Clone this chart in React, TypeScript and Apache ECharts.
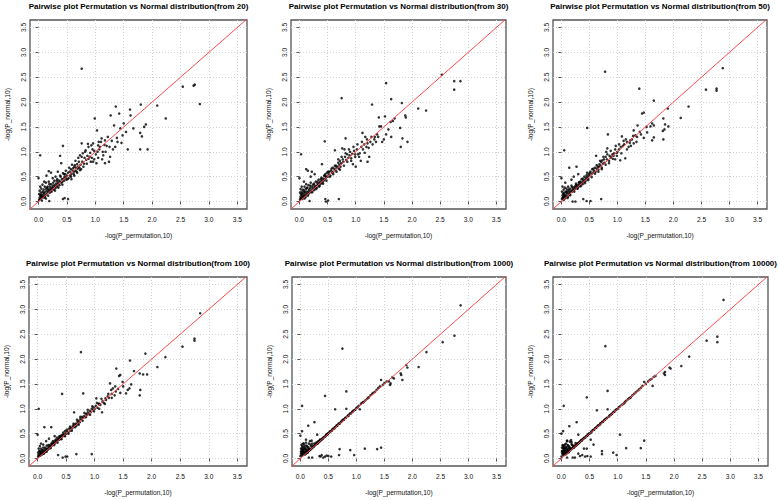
import React, { useEffect, useRef } from "react";
import * as echarts from "echarts";

const panelTitles = [
  "Pairwise plot Permutation vs Normal distribution(from 20)",
  "Pairwise plot Permutation vs Normal distribution(from 30)",
  "Pairwise plot Permutation vs Normal distribution(from 50)",
  "Pairwise plot Permutation vs Normal distribution(from 100)",
  "Pairwise plot Permutation vs Normal distribution(from 1000)",
  "Pairwise plot Permutation vs Normal distribution(from 10000)",
];
const xAxisTitle = "-log(P_permutation,10)";
const yAxisTitle = "-log(P_normal,10)";
const tickValues = [0, 0.5, 1, 1.5, 2, 2.5, 3, 3.5];
const AXIS_MIN = -0.15;
const X_MAX = 3.67;
const Y_MAX = 3.65;
const diagonal = [[-0.3, -0.3], [3.8, 3.8]];

const from20 = [
  [0.01,0.03],[0.01,0.15],[0.02,0.08],[0.02,0.22],[0.03,0.12],[0.03,0.3],[0.04,0.05],[0.04,0.18],[0.05,0.1],[0.05,0.26],[0.06,0.02],[0.06,0.14],[0.07,0.2],[0.07,0.34],[0.08,0.08],[0.08,0.12],[0.09,0.24],[0.1,0.1],[0.1,0.16],[0.11,0.3],[0.12,0.12],[0.12,0.2],[0.13,0.06],[0.13,0.38],[0.14,0.15],[0.15,0.22],[0.15,0.28],[0.16,0.18],[0.17,0.12],[0.17,0.25],[0.18,0.2],[0.18,0.4],[0.19,0.23],[0.2,0.18],[0.2,0.3],[0.21,0.26],[0.22,0.22],[0.22,0.35],[0.23,0.28],[0.24,0.25],[0.25,0.32],[0.25,0.47],[0.26,0.28],[0.27,0.24],[0.28,0.33],[0.28,0.42],[0.29,0.3],[0.3,0.27],[0.31,0.36],[0.32,0.32],[0.33,0.3],[0.33,0.45],[0.34,0.38],[0.35,0.35],[0.36,0.42],[0.37,0.33],[0.38,0.4],[0.39,0.5],[0.4,0.38],[0.41,0.45],[0.42,0.4],[0.43,0.57],[0.44,0.46],[0.45,0.42],[0.46,0.5],[0.47,0.55],[0.48,0.48],[0.49,0.44],[0.5,0.52],
  [0.02,0.05],[0.04,0.13],[0.06,0.09],[0.09,0.18],[0.11,0.08],[0.13,0.26],[0.16,0.3],[0.19,0.35],[0.23,0.2],[0.26,0.38],[0.29,0.22],[0.32,0.42],[0.35,0.28],[0.38,0.52],[0.42,0.34],[0.45,0.55],[0.48,0.62],[0.51,0.45],[0.54,0.68],[0.57,0.5],[0.59,0.74],[0.62,0.6],[0.65,0.82],[0.68,0.58],[0.7,0.88],[0.73,0.63],[0.76,0.9],[0.79,0.7],[0.82,1.0],[0.85,0.76],[0.88,1.1],[0.92,0.8],[0.95,1.05],[0.98,0.85],[1.04,1.0],[1.06,1.2],[1.12,0.85],[1.18,1.0],[1.25,1.1],[1.31,1.05],[1.39,1.2],[1.05,0.88],[0.87,1.16],[0.58,0.45],[0.63,0.52],
  [0.0,0.47],[0.03,0.93],[0.18,0.61],[0.22,0.58],[0.34,0.6],[0.38,0.92],[0.4,0.77],[0.43,1.12],[0.19,0.01],[0.43,0.05],[0.46,0.07],[0.52,0.05],[0.1,0.4],[0.14,0.52],[0.3,0.5],
  [0.52,0.58],[0.53,0.47],[0.55,0.6],[0.56,0.52],[0.57,0.65],[0.58,0.56],[0.6,0.62],[0.61,0.67],[0.62,0.55],[0.63,0.7],[0.64,0.73],[0.65,0.62],[0.66,0.68],[0.67,0.6],[0.68,0.75],[0.69,0.66],[0.7,0.7],[0.71,0.8],[0.72,0.68],[0.73,0.93],[0.74,0.74],[0.75,0.65],[0.76,1.17],[0.76,2.67],[0.77,0.8],[0.78,0.97],[0.8,0.76],[0.81,0.88],[0.83,1.03],[0.84,0.84],[0.86,0.92],[0.88,0.86],[0.9,0.9],[0.91,0.98],[0.93,1.13],[0.94,0.88],[0.96,1.17],[0.96,0.8],[0.98,1.02],[0.99,1.67],
  [1.01,0.95],[1.02,0.77],[1.03,1.43],[1.05,1.13],[1.07,1.05],[1.08,1.1],[1.1,1.2],[1.11,1.27],[1.13,1.0],[1.14,0.93],[1.16,1.14],[1.17,1.23],[1.17,0.77],[1.2,1.12],[1.22,1.3],[1.24,0.8],[1.26,0.9],[1.27,1.73],[1.29,1.22],[1.33,1.53],[1.35,1.1],[1.36,1.91],[1.38,1.28],[1.42,1.77],[1.44,1.47],[1.46,1.18],[1.48,1.33],[1.5,1.57],[1.54,1.4],[1.57,1.05],[1.61,1.85],[1.62,1.73],[1.67,1.47],[1.79,1.38],[1.79,1.05],[1.8,1.95],[1.82,1.31],[1.86,1.5],[1.89,1.55],[1.92,1.05],[2.09,1.93],[2.24,1.67],[2.54,2.31],[2.73,2.33],[2.75,2.35],[2.84,1.96],
];

const from30 = [
  [0.01,0.04],[0.01,0.18],[0.02,0.1],[0.02,0.25],[0.03,0.07],[0.03,0.14],[0.04,0.2],[0.04,0.3],[0.05,0.05],[0.05,0.12],[0.06,0.17],[0.06,0.24],[0.07,0.09],[0.08,0.14],[0.08,0.22],[0.09,0.06],[0.09,0.3],[0.1,0.12],[0.1,0.18],[0.11,0.25],[0.12,0.14],[0.12,0.35],[0.13,0.2],[0.14,0.16],[0.14,0.28],[0.15,0.12],[0.16,0.2],[0.16,0.33],[0.17,0.24],[0.18,0.18],[0.19,0.27],[0.2,0.22],[0.2,0.38],[0.21,0.19],[0.22,0.3],[0.23,0.25],[0.24,0.34],[0.25,0.28],[0.26,0.23],[0.27,0.32],[0.28,0.28],[0.29,0.4],[0.3,0.31],[0.31,0.27],[0.32,0.36],[0.33,0.33],[0.34,0.44],[0.35,0.37],[0.36,0.32],[0.37,0.4],[0.38,0.36],[0.39,0.48],[0.4,0.42],[0.41,0.38],[0.42,0.46],[0.43,0.42],[0.44,0.52],[0.45,0.45],[0.46,0.55],[0.47,0.48],[0.48,0.5],[0.49,0.58],[0.5,0.5],
  [0.02,0.06],[0.04,0.16],[0.06,0.1],[0.09,0.2],[0.11,0.09],[0.13,0.27],[0.16,0.15],[0.19,0.32],[0.23,0.19],[0.26,0.36],[0.29,0.25],[0.32,0.4],[0.35,0.3],[0.38,0.45],[0.42,0.36],[0.45,0.52],[0.48,0.42],[0.51,0.6],[0.54,0.5],[0.57,0.66],[0.6,0.55],[0.63,0.72],[0.66,0.6],[0.69,0.85],[0.72,0.64],[0.75,0.9],[0.79,0.72],[0.82,0.97],[0.85,0.8],[0.88,1.05],[0.92,0.82],[0.96,1.1],[0.99,0.95],[1.03,1.15],[1.06,0.9],[1.11,1.2],[1.16,0.98],[1.23,1.08],[1.28,1.3],[1.36,1.2],[1.4,1.3],
  [0.0,0.47],[0.03,0.95],[0.12,0.65],[0.15,0.62],[0.22,0.6],[0.4,0.75],[0.45,1.21],[0.18,0.01],[0.46,0.05],[0.47,0.0],[0.51,0.02],[0.7,0.05],[0.08,0.4],[0.2,0.5],[0.27,0.55],
  [0.52,0.55],[0.53,0.6],[0.55,0.52],[0.56,0.62],[0.58,0.58],[0.59,0.68],[0.6,0.6],[0.62,0.66],[0.63,1.03],[0.64,0.63],[0.65,0.72],[0.66,0.68],[0.68,0.7],[0.69,0.78],[0.7,0.66],[0.71,0.74],[0.72,0.82],[0.73,0.7],[0.74,0.77],[0.75,2.08],[0.76,1.07],[0.77,0.85],[0.78,0.8],[0.8,1.05],[0.81,0.9],[0.82,1.27],[0.83,0.84],[0.85,0.95],[0.87,0.88],[0.89,0.93],[0.9,1.0],[0.92,0.87],[0.94,0.96],[0.95,0.75],[0.97,1.02],[0.99,0.9],
  [1.0,0.7],[1.02,1.05],[1.04,0.95],[1.07,0.97],[1.09,0.82],[1.1,1.1],[1.12,1.38],[1.13,1.05],[1.15,1.15],[1.17,1.3],[1.19,1.1],[1.2,1.25],[1.21,1.17],[1.21,0.8],[1.24,0.9],[1.26,1.2],[1.29,1.95],[1.3,1.15],[1.33,1.25],[1.34,1.3],[1.38,1.35],[1.41,1.69],[1.42,1.51],[1.45,1.51],[1.47,1.2],[1.5,1.25],[1.52,1.71],[1.54,1.35],[1.54,2.38],[1.58,1.45],[1.62,1.6],[1.63,1.3],[1.63,2.06],[1.66,1.62],[1.69,1.67],[1.79,1.48],[1.8,1.1],[1.82,1.98],[1.83,1.27],[1.88,1.73],[1.89,1.69],[1.92,1.2],[2.11,1.87],[2.25,1.83],[2.53,2.55],[2.75,2.42],[2.75,2.25],[2.86,2.42],
];

const from50 = [
  [0.01,0.05],[0.01,0.2],[0.02,0.12],[0.02,0.3],[0.03,0.08],[0.03,0.16],[0.04,0.24],[0.04,0.03],[0.05,0.1],[0.05,0.18],[0.06,0.28],[0.06,0.06],[0.07,0.14],[0.08,0.2],[0.08,0.09],[0.09,0.26],[0.1,0.12],[0.1,0.17],[0.11,0.22],[0.12,0.1],[0.12,0.3],[0.13,0.16],[0.14,0.2],[0.15,0.14],[0.15,0.26],[0.16,0.18],[0.17,0.22],[0.18,0.32],[0.19,0.2],[0.2,0.25],[0.21,0.22],[0.22,0.28],[0.23,0.24],[0.24,0.3],[0.25,0.26],[0.26,0.36],[0.27,0.3],[0.28,0.27],[0.29,0.33],[0.3,0.3],[0.31,0.38],[0.32,0.34],[0.33,0.31],[0.34,0.4],[0.35,0.36],[0.36,0.45],[0.37,0.38],[0.38,0.35],[0.39,0.42],[0.4,0.4],[0.41,0.5],[0.42,0.44],[0.43,0.41],[0.44,0.48],[0.45,0.45],[0.46,0.58],[0.47,0.5],[0.48,0.47],[0.49,0.55],[0.5,0.52],
  [0.02,0.07],[0.04,0.14],[0.06,0.11],[0.09,0.19],[0.11,0.07],[0.13,0.24],[0.16,0.13],[0.19,0.29],[0.23,0.2],[0.26,0.33],[0.29,0.26],[0.32,0.39],[0.35,0.31],[0.38,0.46],[0.42,0.37],[0.45,0.53],[0.48,0.43],[0.51,0.58],[0.54,0.49],[0.57,0.66],[0.6,0.56],[0.63,0.73],[0.66,0.6],[0.69,0.82],[0.72,0.65],[0.75,0.9],[0.79,0.74],[0.82,0.95],[0.85,0.82],[0.88,1.02],[0.92,0.86],[0.96,1.05],[0.99,0.92],[1.03,1.15],[1.07,0.97],[1.11,1.22],[1.17,1.05],[1.24,1.12],[1.28,1.32],[1.34,1.2],[1.42,1.35],
  [0.0,0.47],[0.05,1.03],[0.14,0.68],[0.27,0.7],[0.22,0.5],[0.46,1.48],[0.2,0.0],[0.25,0.0],[0.39,0.05],[0.45,0.01],[0.52,0.01],[0.71,0.05],[0.07,0.38],[0.18,0.44],[0.3,0.55],
  [0.52,0.6],[0.54,0.55],[0.55,0.65],[0.57,0.58],[0.58,0.62],[0.6,0.68],[0.61,0.6],[0.62,0.92],[0.63,0.66],[0.65,0.7],[0.66,0.64],[0.67,0.7],[0.68,0.75],[0.7,0.72],[0.71,0.8],[0.72,0.68],[0.73,0.83],[0.74,0.76],[0.76,0.85],[0.77,0.78],[0.78,2.61],[0.79,0.9],[0.8,1.0],[0.81,0.85],[0.82,1.07],[0.83,1.35],[0.85,0.77],[0.86,0.92],[0.88,0.88],[0.89,0.9],[0.91,0.95],[0.93,0.92],[0.94,0.97],[0.96,0.85],[0.97,1.12],[0.99,0.98],
  [1.0,1.0],[1.03,1.05],[1.05,0.83],[1.06,1.1],[1.08,1.31],[1.1,1.12],[1.12,1.15],[1.14,0.87],[1.15,1.25],[1.17,1.2],[1.2,1.1],[1.22,1.18],[1.23,1.23],[1.26,1.25],[1.29,1.17],[1.29,1.43],[1.32,1.33],[1.35,1.3],[1.36,1.53],[1.39,2.27],[1.4,1.4],[1.44,1.77],[1.47,1.79],[1.47,1.28],[1.52,1.5],[1.53,1.39],[1.59,1.51],[1.62,1.57],[1.62,1.23],[1.65,1.53],[1.65,1.29],[1.65,2.03],[1.81,1.42],[1.82,1.25],[1.82,1.67],[1.84,1.45],[1.85,1.55],[1.9,1.87],[1.91,1.51],[2.13,1.68],[2.27,1.91],[2.58,2.25],[2.77,2.27],[2.77,2.23],[2.88,2.68],
];

const from100 = [
  [0.01,0.04],[0.01,0.12],[0.02,0.08],[0.02,0.2],[0.03,0.05],[0.03,0.15],[0.04,0.1],[0.04,0.25],[0.05,0.06],[0.05,0.14],[0.06,0.2],[0.06,0.09],[0.07,0.12],[0.08,0.17],[0.08,0.08],[0.09,0.13],[0.1,0.1],[0.1,0.22],[0.11,0.15],[0.12,0.12],[0.13,0.18],[0.14,0.14],[0.15,0.2],[0.15,0.16],[0.16,0.26],[0.17,0.19],[0.18,0.18],[0.19,0.23],[0.2,0.2],[0.21,0.27],[0.22,0.23],[0.23,0.25],[0.24,0.3],[0.25,0.26],[0.26,0.28],[0.27,0.35],[0.28,0.3],[0.29,0.32],[0.3,0.3],[0.31,0.36],[0.32,0.33],[0.33,0.35],[0.34,0.42],[0.35,0.36],[0.36,0.38],[0.37,0.4],[0.38,0.38],[0.39,0.45],[0.4,0.42],[0.41,0.4],[0.42,0.47],[0.43,0.44],[0.44,0.46],[0.45,0.52],[0.46,0.48],[0.47,0.46],[0.48,0.55],[0.49,0.5],[0.5,0.5],
  [0.02,0.06],[0.04,0.15],[0.06,0.12],[0.09,0.17],[0.11,0.1],[0.13,0.22],[0.16,0.14],[0.19,0.27],[0.23,0.21],[0.26,0.32],[0.29,0.27],[0.32,0.38],[0.35,0.32],[0.38,0.44],[0.42,0.39],[0.45,0.48],[0.48,0.45],[0.51,0.58],[0.54,0.5],[0.57,0.64],[0.6,0.56],[0.63,0.7],[0.66,0.63],[0.69,0.78],[0.72,0.68],[0.75,0.84],[0.79,0.76],[0.82,0.92],[0.85,0.84],[0.88,0.98],[0.92,0.88],[0.96,1.05],[0.99,0.95],[1.04,1.12],[1.08,1.0],[1.12,1.2],[1.18,1.1],[1.24,1.3],[1.3,1.22],[1.36,1.45],
  [0.0,0.48],[0.02,1.0],[0.12,0.63],[0.24,0.63],[0.43,1.3],[0.36,0.07],[0.44,0.02],[0.49,0.04],[0.52,0.04],[0.68,0.09],[0.95,0.09],[0.06,0.3],[0.15,0.35],[0.2,0.4],[0.1,0.28],[0.3,0.45],
  [0.52,0.55],[0.54,0.52],[0.55,0.6],[0.57,0.56],[0.58,0.62],[0.6,0.6],[0.62,0.66],[0.63,0.63],[0.64,0.93],[0.65,0.68],[0.67,0.7],[0.68,0.66],[0.7,0.74],[0.71,0.7],[0.72,0.76],[0.74,0.73],[0.75,0.8],[0.76,2.14],[0.77,0.78],[0.78,0.84],[0.8,1.31],[0.8,0.82],[0.82,0.86],[0.84,0.83],[0.85,0.9],[0.87,0.88],[0.88,0.93],[0.9,0.9],[0.92,0.96],[0.93,0.93],[0.95,1.0],[0.97,0.97],[0.98,1.03],
  [1.0,1.0],[1.02,1.06],[1.03,1.21],[1.05,1.02],[1.07,1.1],[1.08,1.1],[1.1,1.08],[1.13,0.93],[1.14,1.15],[1.16,1.12],[1.19,1.21],[1.2,1.18],[1.23,1.25],[1.25,1.22],[1.27,1.51],[1.29,1.38],[1.3,1.3],[1.32,1.41],[1.35,1.27],[1.37,1.35],[1.38,1.81],[1.41,1.4],[1.43,1.66],[1.45,1.68],[1.45,1.32],[1.49,1.54],[1.5,1.45],[1.55,1.31],[1.58,1.38],[1.61,1.41],[1.62,1.97],[1.64,1.49],[1.69,1.76],[1.79,1.71],[1.79,1.27],[1.8,1.38],[1.85,1.69],[1.89,2.11],[1.92,1.69],[2.1,1.84],[2.24,2.04],[2.54,2.25],[2.75,2.41],[2.75,2.37],[2.85,2.92],
];

const from1000 = [
  [0.0,0.05],[0.01,0.1],[0.01,0.2],[0.02,0.15],[0.02,0.28],[0.03,0.06],[0.03,0.12],[0.04,0.22],[0.04,0.18],[0.05,0.08],[0.05,0.3],[0.06,0.14],[0.06,0.24],[0.07,0.1],[0.07,0.19],[0.08,0.08],[0.08,0.26],[0.09,0.13],[0.09,0.2],[0.1,0.1],[0.1,0.32],[0.11,0.16],[0.12,0.12],[0.12,0.24],[0.13,0.2],[0.14,0.14],[0.15,0.3],[0.15,0.18],[0.16,0.16],[0.17,0.35],[0.18,0.18],[0.19,0.25],[0.2,0.2],[0.21,0.3],[0.22,0.22],[0.23,0.24],[0.24,0.24],[0.25,0.26],[0.26,0.27],[0.27,0.28],[0.28,0.29],[0.29,0.3],[0.3,0.3],[0.31,0.34],[0.32,0.32],[0.33,0.35],[0.34,0.34],[0.35,0.37],[0.36,0.36],[0.37,0.38],[0.38,0.38],[0.39,0.4],[0.4,0.4],[0.42,0.43],[0.44,0.44],[0.46,0.47],[0.48,0.48],[0.5,0.51],
  [0.01,0.14],[0.02,0.08],[0.03,0.2],[0.04,0.12],[0.05,0.17],[0.06,0.3],[0.07,0.14],[0.08,0.21],[0.09,0.11],[0.1,0.17],[0.11,0.26],[0.12,0.15],[0.13,0.12],[0.14,0.23],[0.16,0.2],[0.17,0.18],[0.18,0.28],[0.05,0.13],[0.03,0.25],[0.22,0.25],[0.25,0.3],[0.28,0.32],[0.31,0.31],[0.35,0.38],[0.41,0.42],[0.45,0.46],[0.47,0.49],[0.49,0.5],[0.53,0.54],[0.57,0.58],[0.61,0.62],[0.65,0.67],[0.69,0.7],[0.73,0.74],[0.77,0.79],[0.81,0.82],[0.85,0.87],[0.89,0.9],[0.93,0.95],[0.97,0.98],[1.12,1.13],[1.21,1.22],
  [0.0,0.46],[0.03,0.55],[0.03,1.06],[0.14,0.66],[0.25,0.73],[0.3,0.48],[0.44,1.26],[0.1,0.38],[0.2,0.36],
  [0.15,0.02],[0.21,0.02],[0.34,0.05],[0.38,0.07],[0.41,0.02],[0.44,0.04],[0.5,0.05],[0.55,0.04],[0.69,0.07],[0.7,0.19],[0.89,0.17],[0.96,0.07],[1.15,0.2],[1.37,0.19],[1.44,0.22],[0.47,0.06],[0.36,0.04],
  [0.52,0.53],[0.54,0.55],[0.56,0.56],[0.58,0.6],[0.6,0.6],[0.62,0.63],[0.62,0.99],[0.64,0.65],[0.66,0.66],[0.68,0.7],[0.7,0.7],[0.72,0.73],[0.74,0.76],[0.75,2.21],[0.76,0.77],[0.78,0.78],[0.8,0.82],[0.82,1.0],[0.82,1.35],[0.84,0.85],[0.86,0.86],[0.88,0.9],[0.9,0.91],[0.92,0.93],[0.94,0.95],[0.96,0.97],[0.98,0.98],
  [1.0,1.02],[1.02,1.03],[1.04,1.06],[1.06,0.99],[1.08,1.1],[1.1,1.12],[1.13,1.14],[1.16,1.17],[1.19,1.2],[1.22,1.23],[1.25,1.27],[1.28,1.3],[1.3,1.32],[1.33,1.34],[1.36,1.38],[1.39,1.42],[1.42,1.45],[1.44,1.58],[1.47,1.48],[1.5,1.52],[1.54,1.55],[1.58,1.55],[1.6,1.48],[1.61,1.51],[1.64,1.63],[1.67,1.61],[1.79,1.71],[1.8,1.68],[1.82,1.58],[1.89,1.88],[1.91,1.83],[2.11,1.84],[2.25,2.14],[2.54,2.34],[2.75,2.47],[2.86,3.08],
];

const from10000 = [
  [0.0,0.04],[0.01,0.12],[0.01,0.22],[0.02,0.16],[0.02,0.27],[0.03,0.07],[0.03,0.14],[0.04,0.2],[0.04,0.1],[0.05,0.25],[0.05,0.16],[0.06,0.08],[0.06,0.21],[0.07,0.12],[0.07,0.18],[0.08,0.3],[0.08,0.09],[0.09,0.15],[0.09,0.23],[0.1,0.11],[0.1,0.35],[0.11,0.19],[0.12,0.13],[0.12,0.26],[0.13,0.22],[0.14,0.15],[0.15,0.34],[0.15,0.2],[0.16,0.17],[0.17,0.37],[0.18,0.19],[0.19,0.27],[0.2,0.21],[0.21,0.24],[0.22,0.22],[0.23,0.23],[0.24,0.25],[0.25,0.26],[0.26,0.26],[0.27,0.28],[0.28,0.28],[0.29,0.3],[0.3,0.31],[0.31,0.32],[0.32,0.32],[0.33,0.34],[0.34,0.35],[0.35,0.36],[0.36,0.36],[0.37,0.38],[0.38,0.39],[0.39,0.4],[0.4,0.41],[0.42,0.42],[0.44,0.45],[0.46,0.46],[0.48,0.49],[0.5,0.5],
  [0.01,0.15],[0.02,0.09],[0.03,0.22],[0.04,0.13],[0.05,0.19],[0.06,0.28],[0.07,0.15],[0.08,0.22],[0.09,0.12],[0.1,0.18],[0.11,0.27],[0.12,0.16],[0.13,0.13],[0.14,0.24],[0.16,0.21],[0.17,0.2],[0.18,0.29],[0.05,0.12],[0.03,0.26],[0.22,0.26],[0.25,0.31],[0.28,0.3],[0.31,0.31],[0.35,0.37],[0.41,0.42],[0.45,0.45],[0.47,0.48],[0.49,0.5],[0.53,0.53],[0.57,0.58],[0.61,0.62],[0.65,0.66],[0.69,0.7],[0.73,0.74],[0.77,0.78],[0.81,0.82],[0.85,0.86],[0.89,0.9],[0.93,0.94],[0.97,0.98],[1.12,1.12],[1.22,1.22],
  [0.0,0.5],[0.03,0.55],[0.04,1.06],[0.14,0.65],[0.27,0.73],[0.3,0.48],[0.45,1.23],[0.1,0.36],[0.18,0.33],
  [0.1,0.02],[0.2,0.02],[0.24,0.02],[0.33,0.05],[0.37,0.07],[0.42,0.04],[0.46,0.05],[0.52,0.04],[0.52,0.38],[0.57,0.28],[0.45,0.2],[0.72,0.15],[0.72,0.09],[0.92,0.12],[0.98,0.07],[1.04,0.48],[1.15,0.21],[1.41,0.21],[1.47,0.36],[0.3,0.1],[0.4,0.2],
  [0.52,0.52],[0.54,0.55],[0.56,0.57],[0.58,0.58],[0.6,0.61],[0.62,0.62],[0.63,0.97],[0.64,0.65],[0.66,0.67],[0.68,0.68],[0.7,0.71],[0.72,0.73],[0.74,0.74],[0.76,0.77],[0.78,2.26],[0.78,0.79],[0.8,0.81],[0.82,0.99],[0.82,1.36],[0.84,0.84],[0.86,0.87],[0.88,0.88],[0.9,0.9],[0.92,0.93],[0.94,0.94],[0.96,0.97],[0.98,0.99],
  [1.0,1.0],[1.02,1.03],[1.04,1.05],[1.07,1.08],[1.1,1.1],[1.13,1.14],[1.15,1.16],[1.18,1.19],[1.2,1.21],[1.23,1.23],[1.26,1.27],[1.29,1.3],[1.32,1.33],[1.35,1.36],[1.38,1.39],[1.41,1.42],[1.44,1.46],[1.47,1.54],[1.5,1.5],[1.54,1.55],[1.57,1.58],[1.6,1.6],[1.62,1.46],[1.64,1.64],[1.67,1.66],[1.82,1.71],[1.84,1.74],[1.84,1.68],[1.92,1.83],[1.94,1.81],[2.13,1.86],[2.27,2.05],[2.58,2.37],[2.77,2.45],[2.77,2.34],[2.88,3.19],
];

const panelData = [from20, from30, from50, from100, from1000, from10000];

const gridBoxes = [
  { left: 30, top: 20, width: 217, height: 189 },
  { left: 291, top: 20, width: 215, height: 189 },
  { left: 553, top: 20, width: 214, height: 189 },
  { left: 29, top: 277, width: 218, height: 189 },
  { left: 292, top: 277, width: 214, height: 189 },
  { left: 553, top: 277, width: 215, height: 189 },
];

const FONT = '"Liberation Sans", Arial, Helvetica, sans-serif';

export default function App() {
  const ref = useRef<HTMLDivElement>(null);
  useEffect(() => {
    document.body.style.margin = "0";
    if (!ref.current) return;
    const chart = echarts.init(ref.current, undefined, { renderer: "svg" });
    const grids: any[] = [];
    const xAxes: any[] = [];
    const yAxes: any[] = [];
    const series: any[] = [];
    const graphics: any[] = [];
    gridBoxes.forEach((b, i) => {
      grids.push({
        left: b.left, top: b.top, width: b.width, height: b.height,
        show: true, borderColor: "#555", borderWidth: 1.3, backgroundColor: "transparent",
      });
      const common = {
        gridIndex: i,
        type: "value",
        min: AXIS_MIN,
        axisLine: { show: false },
        axisTick: { show: true, customValues: tickValues, length: 3, lineStyle: { color: "#555", width: 1 } },
        splitLine: { show: true, lineStyle: { color: "#d3d3d3", width: 1, type: [1, 2] } },
        nameLocation: "middle",
        nameTextStyle: { fontFamily: FONT, fontSize: 6.6, color: "#111" },
      };
      xAxes.push({
        ...common,
        max: X_MAX,
        name: xAxisTitle,
        nameGap: 23,
        axisLabel: { customValues: tickValues, formatter: (v: number) => v.toFixed(1), fontFamily: FONT, fontSize: 6.6, color: "#111", margin: 7 },
      });
      yAxes.push({
        ...common,
        max: Y_MAX,
        name: yAxisTitle,
        nameGap: 19,
        axisLabel: { customValues: tickValues, formatter: (v: number) => v.toFixed(1), fontFamily: FONT, fontSize: 6.6, color: "#111", margin: 3, rotate: 90 },
      });
      series.push({
        type: "scatter",
        xAxisIndex: i, yAxisIndex: i,
        data: panelData[i],
        symbol: "circle",
        symbolSize: 2.6,
        itemStyle: { color: "#000" },
        silent: true,
        z: 2,
      });
      series.push({
        type: "line",
        xAxisIndex: i, yAxisIndex: i,
        data: diagonal,
        showSymbol: false,
        clip: true,
        lineStyle: { color: "#ff4a4a", width: 1 },
        silent: true,
        z: 3,
      });
      graphics.push({
        type: "text",
        x: b.left + b.width / 2,
        y: b.top - 14,
        style: {
          text: panelTitles[i],
          fill: "#000",
          fontFamily: FONT,
          fontWeight: "bold",
          fontSize: 8,
          align: "center",
          verticalAlign: "middle",
          textAlign: "center",
          textVerticalAlign: "middle",
        },
      });
    });
    chart.setOption({
      animation: false,
      backgroundColor: "#fff",
      grid: grids,
      xAxis: xAxes,
      yAxis: yAxes,
      series,
      graphic: graphics,
    });
    return () => chart.dispose();
  }, []);
  return <div ref={ref} style={{ position: "absolute", left: 0, top: 0, width: 778, height: 500 }} />;
}
